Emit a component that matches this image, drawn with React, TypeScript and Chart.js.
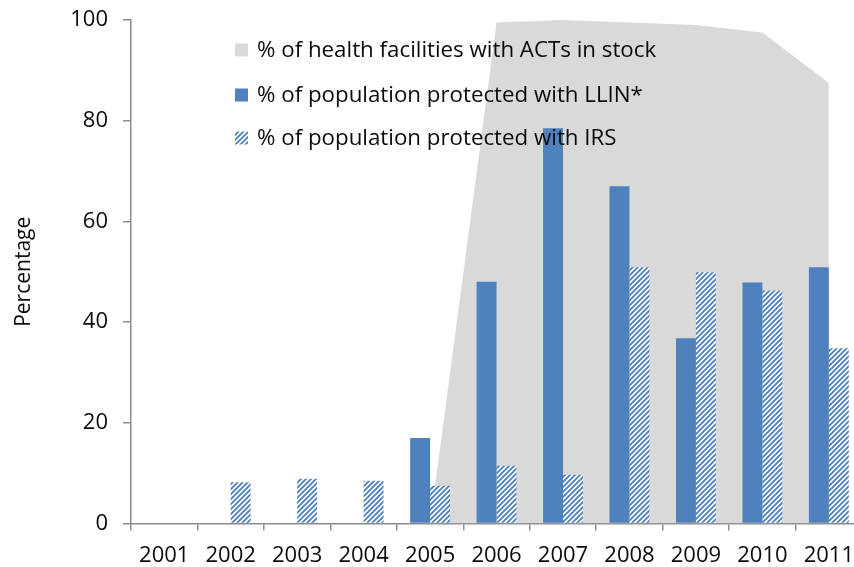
import React, { useEffect, useRef } from "react";
import { Chart, registerables } from "chart.js";

Chart.register(...registerables);

const years = ["2001", "2002", "2003", "2004", "2005", "2006", "2007", "2008", "2009", "2010", "2011"];
const actsInStock: (number | null)[] = [null, null, null, null, 0, 99.5, 100, 99.5, 99, 97.5, 87.5];
const llin: (number | null)[] = [null, null, null, null, 17, 48, 78.5, 67, 36.8, 47.9, 50.9];
const irs: (number | null)[] = [null, 8.2, 8.9, 8.5, 7.5, 11.5, 9.7, 50.9, 49.9, 46.3, 34.8];
const yTicks = [0, 20, 40, 60, 80, 100];
const legendLabels = [
  "% of health facilities with ACTs in stock",
  "% of population protected with LLIN*",
  "% of population protected with IRS",
];

const BLUE = "#4F81BD";
const GRAY = "#D9D9D9";
const AXIS = "#8C8C8C";
const TEXT = "#0a0a0a";
const FONT = "'Open Sans'";

function makeHatch(ctx: CanvasRenderingContext2D): CanvasPattern | string {
  const s = 5;
  const c = document.createElement("canvas");
  c.width = s;
  c.height = s;
  const g = c.getContext("2d");
  if (!g) return BLUE;
  g.fillStyle = "#ffffff";
  g.fillRect(0, 0, s, s);
  g.strokeStyle = BLUE;
  g.lineWidth = 1.9;
  g.beginPath();
  g.moveTo(0, s);
  g.lineTo(s, 0);
  g.moveTo(-1, 1);
  g.lineTo(1, -1);
  g.moveTo(s - 1, s + 1);
  g.lineTo(s + 1, s - 1);
  g.stroke();
  return ctx.createPattern(c, "repeat") || BLUE;
}

export default function App() {
  const ref = useRef<HTMLCanvasElement | null>(null);

  useEffect(() => {
    const canvas = ref.current;
    if (!canvas) return;
    const ctx = canvas.getContext("2d");
    if (!ctx) return;
    const hatch = makeHatch(ctx);

    const legendPlugin = {
      id: "insideLegend",
      afterDraw(chart: any) {
        const c = chart.ctx as CanvasRenderingContext2D;
        const x0 = 235;
        const ys = [50, 95, 138];
        const fills = [GRAY, BLUE, hatch];
        c.save();
        c.font = `22.3px ${FONT}`;
        c.textBaseline = "middle";
        c.textAlign = "left";
        legendLabels.forEach((t, i) => {
          c.fillStyle = fills[i] as any;
          c.fillRect(x0, ys[i] - 6.5, 13, 13);
          c.fillStyle = TEXT;
          c.fillText(t, x0 + 22, ys[i] + 1);
        });
        c.restore();
      },
    };

    const chart = new Chart(ctx, {
      data: {
        labels: years,
        datasets: [
          {
            type: "line",
            label: legendLabels[0],
            data: actsInStock,
            backgroundColor: GRAY,
            borderWidth: 0,
            borderColor: GRAY,
            pointRadius: 0,
            fill: "origin",
            tension: 0,
            order: 3,
          } as any,
          {
            type: "bar",
            label: legendLabels[1],
            data: llin,
            backgroundColor: BLUE,
            borderWidth: 0,
            categoryPercentage: 0.6,
            barPercentage: 1,
            order: 1,
          },
          {
            type: "bar",
            label: legendLabels[2],
            data: irs,
            backgroundColor: hatch as any,
            borderWidth: 0,
            categoryPercentage: 0.6,
            barPercentage: 1,
            order: 1,
          },
        ],
      },
      options: {
        animation: false,
        responsive: true,
        maintainAspectRatio: false,
        layout: { padding: { top: 20, right: 0, bottom: 0, left: 0 } },
        plugins: {
          legend: { display: false },
          tooltip: { enabled: false },
        },
        scales: {
          x: {
            type: "category",
            offset: true,
            grid: {
              display: true,
              offset: true,
              drawOnChartArea: false,
              drawTicks: true,
              tickLength: 7,
              color: AXIS,
              lineWidth: 1.5,
            },
            border: { display: true, color: AXIS, width: 1.5 },
            ticks: {
              color: TEXT,
              font: { family: FONT, size: 22 },
              padding: 12,
              maxRotation: 0,
              autoSkip: false,
            },
          },
          y: {
            min: 0,
            max: 100,
            afterBuildTicks: (scale: any) => {
              scale.ticks = yTicks.map((v) => ({ value: v }));
            },
            afterFit: (scale: any) => {
              scale.width = 131;
              scale.paddingTop = 0;
              scale.paddingBottom = 0;
            },
            grid: {
              display: true,
              drawOnChartArea: false,
              drawTicks: true,
              tickLength: 8,
              color: AXIS,
              lineWidth: 1.5,
            },
            border: { display: true, color: AXIS, width: 1.5 },
            ticks: {
              color: TEXT,
              font: { family: FONT, size: 22 },
              padding: 15,
            },
            title: {
              display: true,
              text: "Percentage",
              color: TEXT,
              font: { family: FONT, size: 21 },
              padding: { top: 11, bottom: 0 },
            },
          },
        },
      },
      plugins: [legendPlugin],
    });

    return () => chart.destroy();
  }, []);

  return (
    <div style={{ position: "fixed", left: 0, top: 0, width: 866, height: 581, background: "#fff" }}>
      <canvas ref={ref} />
    </div>
  );
}
